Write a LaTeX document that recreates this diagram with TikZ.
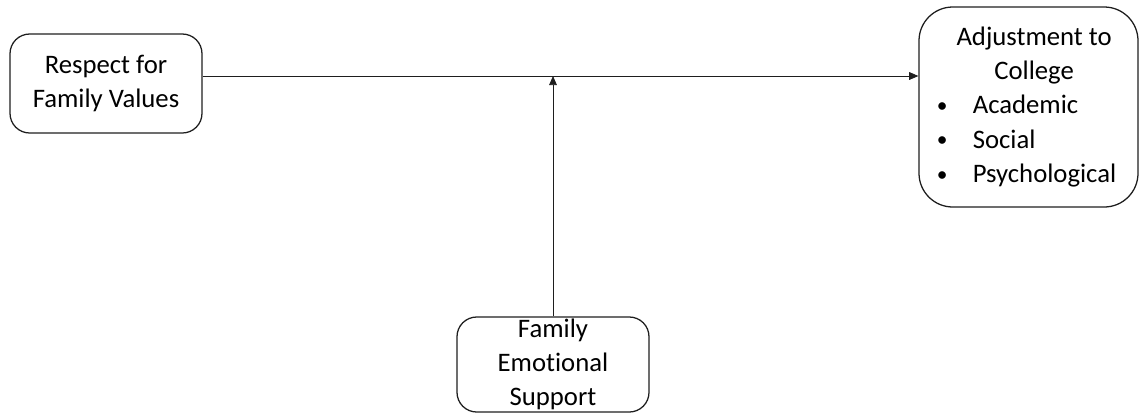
\documentclass[tikz,border=0pt]{standalone}
\usepackage{fontspec}
\setmainfont[Ligatures={NoCommon,NoContextual}]{Carlito}
\usetikzlibrary{arrows.meta,positioning}
\definecolor{ink}{RGB}{30,30,30}
\tikzset{
  box/.style={draw=ink,line width=0.9pt,rounded corners=14pt,inner sep=0pt,
    align=center,font=\fontsize{19pt}{24pt}\selectfont},
  arr/.style={-{Triangle[length=6.5pt,width=5.5pt]},line width=0.6pt,ink},
}
\newcommand{\bul}{\raisebox{1pt}{\scalebox{0.8}{\textbullet}}}
\begin{document}
\begin{tikzpicture}[x=0.025cm,y=-0.025cm]
  \useasboundingbox (0,0) rectangle (1146,417);
  \node[box,minimum width=192*0.025cm,minimum height=99*0.025cm] (resp) at (106,83.5)
    {Respect for\\Family Values};
  \node[box,rounded corners=24pt,minimum width=219*0.025cm,minimum height=200*0.025cm] (adj) at (1028.5,107)
    {\renewcommand{\arraystretch}{1.02}%
     \begin{tabular}{@{}l@{\hspace{18pt}}l@{}}
       \multicolumn{2}{c}{\hspace{8pt}Adjustment to}\\
       \multicolumn{2}{c}{\hspace{8pt}College}\\
       \bul & Academic\\
       \bul & Social\\
       \bul & Psychological
     \end{tabular}};
  \node[box,minimum width=192*0.025cm,minimum height=95*0.025cm] (supp) at (553,364.5)
    {Family\\Emotional\\Support};
  \coordinate (mid) at (553,76);

  \draw[arr] (resp.east |- mid) -- (adj.west |- mid);
  \draw[arr] (supp.north) -- (mid);
\end{tikzpicture}
\end{document}
